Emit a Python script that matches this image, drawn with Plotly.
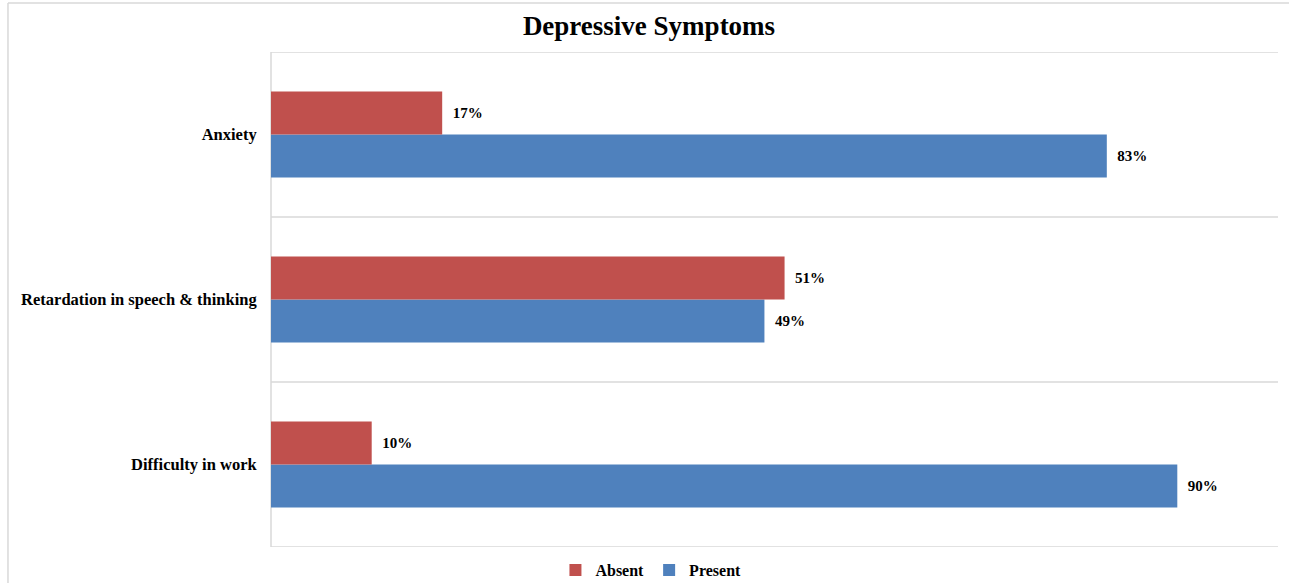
import plotly.graph_objects as go

# Depressive symptoms, share of respondents (%)
symptoms = ["Difficulty in work", "Retardation in speech & thinking", "Anxiety"]
absent = [10, 51, 17]
present = [90, 49, 83]

RED = "#C0504D"
BLUE = "#4F81BD"
GRID = "#D9D9D9"
FONT = "Liberation Serif, Times New Roman, serif"
PAD = "\u00a0\u00a0"

fig = go.Figure()

# Present goes first so it sits below Absent within each group
fig.add_trace(go.Bar(
    y=symptoms, x=present, name="<b>Present</b>", orientation="h",
    marker=dict(color=BLUE, line=dict(width=0)),
    text=[f"{PAD}<b>{v}%</b>" for v in present], textposition="outside",
    textfont=dict(family=FONT, size=15, color="#000000"),
    cliponaxis=False, legendrank=2,
))
fig.add_trace(go.Bar(
    y=symptoms, x=absent, name="<b>Absent</b>", orientation="h",
    marker=dict(color=RED, line=dict(width=0)),
    text=[f"{PAD}<b>{v}%</b>" for v in absent], textposition="outside",
    textfont=dict(family=FONT, size=15, color="#000000"),
    cliponaxis=False, legendrank=1,
))

# Category separators (Excel-style horizontal gridlines between groups)
shapes = []
for b in [-0.5, 0.5, 1.5, 2.5]:
    shapes.append(dict(type="line", xref="paper", yref="y",
                       x0=0, x1=1, y0=b, y1=b,
                       line=dict(color=GRID, width=1.5), layer="below"))
# Left value axis line
shapes.append(dict(type="line", xref="paper", yref="paper",
                   x0=0, x1=0, y0=0, y1=1,
                   line=dict(color=GRID, width=1.5), layer="below"))
# Outer chart frame (top and left edges)
shapes.append(dict(type="line", xref="paper", yref="paper",
                   x0=-0.2612, x1=1.02, y0=1.0990, y1=1.0990,
                   line=dict(color=GRID, width=1.5)))
shapes.append(dict(type="line", xref="paper", yref="paper",
                   x0=-0.2612, x1=-0.2612, y0=-0.1, y1=1.0990,
                   line=dict(color=GRID, width=1.5)))

fig.update_layout(
    width=1289, height=583,
    margin=dict(l=271, r=11, t=52, b=36, autoexpand=False),
    paper_bgcolor="white", plot_bgcolor="white",
    barmode="group", bargap=0.48, bargroupgap=0,
    title=dict(text="<b>Depressive Symptoms</b>", x=0.5035, xanchor="center",
               y=0.957, yanchor="middle",
               font=dict(family=FONT, size=27, color="#000000")),
    xaxis=dict(range=[0, 100], showgrid=False, zeroline=False,
               showticklabels=False, showline=False, ticks=""),
    yaxis=dict(type="category", range=[-0.5, 2.5], showgrid=False,
               zeroline=False, showline=False, ticks="outside",
               ticklen=10, tickcolor="rgba(0,0,0,0)",
               tickfont=dict(family=FONT, size=16.5, color="#000000"),
               tickvals=symptoms,
               ticktext=[f"<b>{s}</b>" for s in symptoms]),
    legend=dict(orientation="h", xref="container", x=0.505, xanchor="center",
                yref="container", y=0.022, yanchor="middle",
                font=dict(family=FONT, size=16, color="#000000"),
                itemwidth=30, traceorder="normal", itemsizing="constant"),
    shapes=shapes,
)

fig.update_traces(textangle=0)

fig.write_html("out.html")
